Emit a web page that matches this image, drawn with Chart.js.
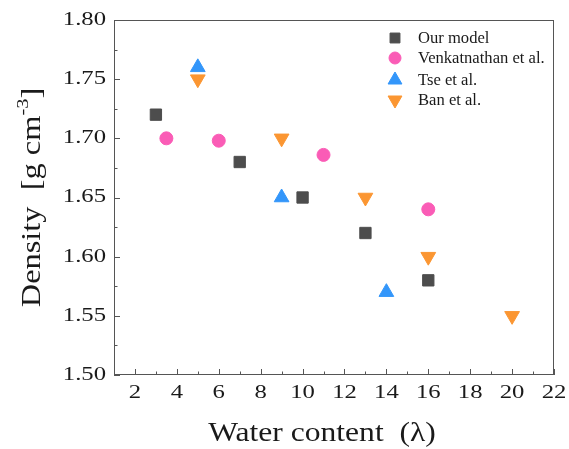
<!DOCTYPE html>
<html lang="en">
<head>
<meta charset="UTF-8">
<title>Density vs water content</title>
<script src="https://cdn.jsdelivr.net/npm/chart.js"></script>
<style>
  html, body { margin: 0; padding: 0; background: #fff; }
  canvas { display: block; }
</style>
</head>
<body>
<canvas id="densityChart" width="569" height="449"></canvas>
<script>
// data
const seriesNames = ['Our model', 'Venkatnathan et al.', 'Tse et al.', 'Ban et al.'];
const modelX = [3, 7, 10, 13, 16];
const modelY = [1.72, 1.68, 1.65, 1.62, 1.58];
const venkX = [3.5, 6, 11, 16];
const venkY = [1.70, 1.698, 1.686, 1.64];
const tseX = [5, 9, 14];
const tseY = [1.76, 1.65, 1.57];
const banX = [5, 9, 13, 16, 20];
const banY = [1.75, 1.70, 1.65, 1.60, 1.55];
const xTicks = [2, 4, 6, 8, 10, 12, 14, 16, 18, 20, 22];
const yTicks = [1.50, 1.55, 1.60, 1.65, 1.70, 1.75, 1.80];

function toPoints(xs, ys) {
  return xs.map(function (x, i) { return { x: x, y: ys[i] }; });
}

var serif = '"Liberation Serif", "Times New Roman", serif';

// draws text stretched horizontally, the figure uses a wide serif
function wideText(ctx, text, x, y, sx, align) {
  ctx.save();
  ctx.translate(x, y);
  ctx.scale(sx, 1);
  ctx.textAlign = align;
  ctx.fillText(text, 0, 0);
  ctx.restore();
}

var axesPlugin = {
  id: 'originAxes',
  afterDraw: function (chart) {
    var ctx = chart.ctx;
    var a = chart.chartArea;
    var xs = chart.scales.x, ys = chart.scales.y;
    ctx.save();

    // frame
    ctx.strokeStyle = '#555';
    ctx.lineWidth = 1;
    ctx.strokeRect(a.left + 0.5, a.top + 0.5, a.right - a.left - 1, a.bottom - a.top - 1);

    // inward ticks
    ctx.beginPath();
    xTicks.forEach(function (v) {
      var px = Math.round(xs.getPixelForValue(v)) + 0.5;
      ctx.moveTo(px, a.bottom); ctx.lineTo(px, a.bottom - 6);
      var m = Math.round(xs.getPixelForValue(v - 1)) + 0.5;
      if (v - 1 > xs.min) { ctx.moveTo(m, a.bottom); ctx.lineTo(m, a.bottom - 3.5); }
    });
    yTicks.forEach(function (v, i) {
      var py = Math.round(ys.getPixelForValue(v)) + 0.5;
      ctx.moveTo(a.left, py); ctx.lineTo(a.left + 6, py);
      if (i > 0) {
        var m = Math.round(ys.getPixelForValue((v + yTicks[i - 1]) / 2)) + 0.5;
        ctx.moveTo(a.left, m); ctx.lineTo(a.left + 3.5, m);
      }
    });
    ctx.stroke();

    // tick labels
    ctx.fillStyle = '#1a1a1a';
    ctx.font = '19px ' + serif;
    ctx.textBaseline = 'middle';
    yTicks.forEach(function (v) {
      wideText(ctx, v.toFixed(2), a.left - 8, ys.getPixelForValue(v), 1.3, 'right');
    });
    xTicks.forEach(function (v) {
      wideText(ctx, String(v), xs.getPixelForValue(v), a.bottom + 18, 1.3, 'center');
    });

    // x title
    ctx.font = '27px ' + serif;
    wideText(ctx, 'Water content  (\u03bb)', 322, 434, 1.17, 'center');

    // y title with superscript
    ctx.save();
    ctx.translate(33, (a.top + a.bottom) / 2);
    ctx.rotate(-Math.PI / 2);
    ctx.scale(1.2, 1);
    var p1 = 'Density  [g cm', sup = '-3', p2 = ']';
    ctx.font = '27px ' + serif;
    var w1 = ctx.measureText(p1).width, w3 = ctx.measureText(p2).width;
    ctx.font = '17px ' + serif;
    var w2 = ctx.measureText(sup).width;
    var x0 = -(w1 + w2 + w3) / 2;
    ctx.textAlign = 'left';
    ctx.font = '27px ' + serif;
    ctx.fillText(p1, x0, 0);
    ctx.fillText(p2, x0 + w1 + w2, 0);
    ctx.font = '17px ' + serif;
    ctx.fillText(sup, x0 + w1, -9);
    ctx.restore();

    // legend inside the plot
    var rows = [38, 58, 80, 100];
    chart.data.datasets.forEach(function (ds, i) {
      ctx.fillStyle = ds.backgroundColor;
      ctx.strokeStyle = ds.borderColor;
      ctx.lineWidth = 1;
      Chart.helpers.drawPoint(ctx, {
        pointStyle: ds.pointStyle,
        rotation: ds.pointRotation || 0,
        radius: ds.legendRadius,
        borderWidth: 1
      }, 395, rows[i]);
      ctx.fillStyle = '#1a1a1a';
      ctx.font = '16.6px ' + serif;
      ctx.textAlign = 'left';
      ctx.textBaseline = 'middle';
      ctx.fillText(ds.label, 418, rows[i] + 1);
    });

    ctx.restore();
  }
};

var ctx = document.getElementById('densityChart').getContext('2d');
var densityChart = new Chart(ctx, {
  type: 'scatter',
  data: {
    datasets: [
      {
        label: seriesNames[0], data: toPoints(modelX, modelY),
        pointStyle: 'rect', pointRadius: 8, legendRadius: 7,
        backgroundColor: '#4d4d4d', borderColor: '#4d4d4d', borderWidth: 1
      },
      {
        label: seriesNames[1], data: toPoints(venkX, venkY),
        pointStyle: 'circle', pointRadius: 6.5, legendRadius: 6,
        backgroundColor: '#fa5cb6', borderColor: '#fa5cb6', borderWidth: 1
      },
      {
        label: seriesNames[2], data: toPoints(tseX, tseY),
        pointStyle: 'triangle', pointRadius: 8.5, legendRadius: 8,
        backgroundColor: '#3396fa', borderColor: '#3396fa', borderWidth: 1
      },
      {
        label: seriesNames[3], data: toPoints(banX, banY),
        pointStyle: 'triangle', pointRotation: 180, pointRadius: 8.5, legendRadius: 8,
        backgroundColor: '#fb9632', borderColor: '#fb9632', borderWidth: 1
      }
    ]
  },
  options: {
    responsive: false,
    animation: false,
    layout: { padding: { top: 20, right: 15, left: 0, bottom: 0 } },
    plugins: {
      legend: { display: false },
      tooltip: { enabled: false }
    },
    scales: {
      x: {
        type: 'linear', min: 1, max: 22,
        grid: { display: false }, border: { display: false },
        ticks: { display: false },
        afterFit: function (s) { s.height = 74; }
      },
      y: {
        type: 'linear', min: 1.5, max: 1.8,
        grid: { display: false }, border: { display: false },
        ticks: { display: false },
        afterFit: function (s) { s.width = 114; }
      }
    }
  },
  plugins: [axesPlugin]
});
</script>
</body>
</html>
